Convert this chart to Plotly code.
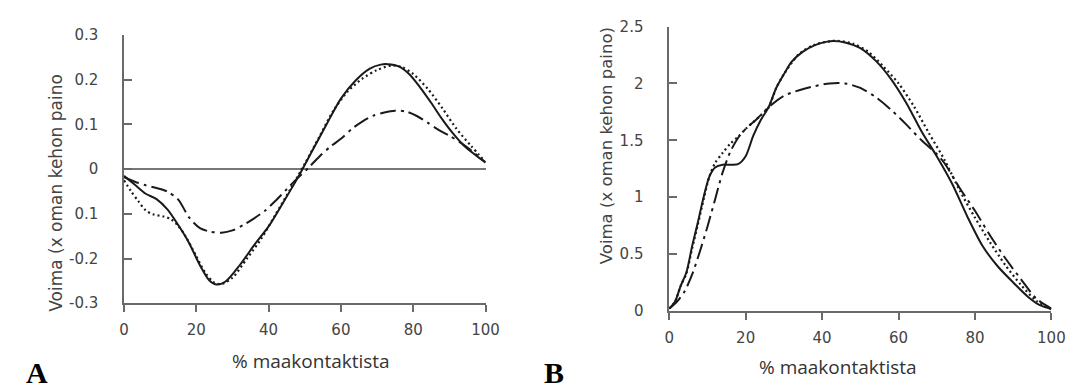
import plotly.graph_objects as go

W, H = 1078, 392

# ---------------- Panel A data ----------------
a_solid_x = [0, 3, 6, 9, 12, 15, 18, 21, 23.5, 25.5, 28, 32, 36, 40, 44, 48, 52, 56, 60, 64, 68, 71, 73, 76, 79, 82, 85, 88, 91, 94, 97, 100]
a_solid_y = [-0.015, -0.035, -0.055, -0.067, -0.09, -0.125, -0.165, -0.215, -0.248, -0.258, -0.252, -0.215, -0.17, -0.128,
             -0.075, -0.02, 0.04, 0.1, 0.158, 0.198, 0.225, 0.234, 0.235, 0.23, 0.212, 0.182, 0.148, 0.112, 0.08, 0.053, 0.033, 0.015]

a_dot_x = [0, 2, 4, 6, 8, 11, 13, 15, 17, 20, 22.5, 25, 27, 30, 34, 38, 42, 46, 50, 54, 58, 62, 66, 70, 74, 77, 80, 84, 88, 92, 96, 100]
a_dot_y = [-0.025, -0.05, -0.072, -0.092, -0.101, -0.106, -0.112, -0.127, -0.15, -0.195, -0.232, -0.254, -0.257, -0.243,
           -0.2, -0.155, -0.1, -0.045, 0.012, 0.072, 0.132, 0.175, 0.203, 0.222, 0.232, 0.228, 0.213, 0.18, 0.137, 0.09, 0.052, 0.016]

a_dd_x = [0, 3, 6, 9, 12, 15, 18, 21, 24, 27, 30, 33, 36, 39, 42, 45, 48, 51, 54, 57, 60, 63, 66, 69, 72, 75, 78, 81, 84, 87, 90, 93, 96, 100]
a_dd_y = [-0.018, -0.028, -0.036, -0.042, -0.05, -0.068, -0.108, -0.132, -0.14, -0.142, -0.137, -0.125, -0.11, -0.093, -0.07,
          -0.045, -0.02, 0.003, 0.028, 0.05, 0.068, 0.09, 0.107, 0.12, 0.127, 0.131, 0.129, 0.119, 0.104, 0.088, 0.075, 0.06, 0.042, 0.015]

# ---------------- Panel B data ----------------
b_solid_x = [0, 1.5, 3, 4.5, 6, 7.5, 9, 10.5, 12, 14, 16, 18, 20, 22, 24, 26, 28, 30, 32, 35, 38, 41, 43, 46, 50, 54, 58, 62, 66, 70, 74, 78, 82, 86, 90, 94, 97, 100]
b_solid_y = [0.02, 0.08, 0.22, 0.34, 0.57, 0.78, 1.0, 1.18, 1.26, 1.285, 1.285, 1.29, 1.36, 1.54, 1.68, 1.79, 1.96, 2.08, 2.19,
             2.28, 2.335, 2.365, 2.373, 2.36, 2.31, 2.2, 2.04, 1.83, 1.58, 1.36, 1.12, 0.83, 0.57, 0.39, 0.25, 0.12, 0.05, 0.015]

b_dot_x = [0, 1.5, 3, 4.5, 6, 7.5, 9, 10.5, 12, 14, 16, 18, 20, 22, 24, 26, 28, 30, 34, 38, 42, 44, 48, 52, 56, 60, 64, 68, 72, 76, 80, 84, 88, 92, 96, 100]
b_dot_y = [0.02, 0.08, 0.22, 0.33, 0.55, 0.76, 0.98, 1.18, 1.3, 1.39, 1.47, 1.53, 1.6, 1.66, 1.72, 1.79, 1.96, 2.08, 2.26, 2.34,
           2.37, 2.375, 2.35, 2.28, 2.15, 2.0, 1.8, 1.56, 1.33, 1.06, 0.82, 0.6, 0.4, 0.23, 0.09, 0.015]

b_dd_x = [0, 2, 4, 6, 8, 10, 12, 14, 16, 18, 20, 23, 26, 30, 34, 38, 42, 46, 50, 54, 58, 62, 66, 70, 72, 76, 80, 84, 88, 92, 96, 100]
b_dd_y = [0.02, 0.08, 0.17, 0.32, 0.52, 0.74, 0.98, 1.22, 1.4, 1.52, 1.6, 1.69, 1.79, 1.89, 1.94, 1.975, 2.0, 2.0, 1.96, 1.88,
          1.77, 1.64, 1.5, 1.38, 1.3, 1.08, 0.88, 0.66, 0.46, 0.28, 0.11, 0.02]

# ---------------- ticks ----------------
x_tickvals = [0, 20, 40, 60, 80, 100]
x_ticktext = ["0", "20", "40", "60", "80", "100"]
a_y_tickvals = [-0.3, -0.2, -0.1, 0, 0.1, 0.2, 0.3]
a_y_ticktext = ["-0.3", "-0.2", "0.1", "0", "0.1", "0.2", "0.3"]
b_y_tickvals = [0, 0.5, 1, 1.5, 2, 2.5]
b_y_ticktext = ["0", "0.5", "1", "1.5", "2", "2.5"]

x_title = "% maakontaktista"
a_y_title = "Voima (x oman kehon paino"
b_y_title = "Voima (x oman kehon paino)"

LINE = "#1a1a1a"
AX = "#6a6a6a"


def px_x(p):
    return p / W


def px_y(p):
    return 1 - p / H


fig = go.Figure()

styles = [
    dict(width=2.0, dash="solid"),
    dict(width=2.2, dash="2px,3px"),
    dict(width=2.0, dash="16px,5px,3px,5px"),
]

for xs, ys, st in [(a_solid_x, a_solid_y, styles[0]), (a_dot_x, a_dot_y, styles[1]), (a_dd_x, a_dd_y, styles[2])]:
    fig.add_trace(go.Scatter(x=xs, y=ys, mode="lines", line=dict(color=LINE, shape="spline", smoothing=0.8, **st),
                             xaxis="x", yaxis="y", showlegend=False, hoverinfo="skip"))
for xs, ys, st in [(b_solid_x, b_solid_y, styles[0]), (b_dot_x, b_dot_y, styles[1]), (b_dd_x, b_dd_y, styles[2])]:
    fig.add_trace(go.Scatter(x=xs, y=ys, mode="lines", line=dict(color=LINE, shape="spline", smoothing=0.8, **st),
                             xaxis="x2", yaxis="y2", showlegend=False, hoverinfo="skip"))

tickfont = dict(family="DejaVu Sans", size=15, color="#444")

xcommon = dict(range=[0, 100], tickvals=x_tickvals, ticktext=x_ticktext, showgrid=False, zeroline=False,
               showline=True, linecolor=AX, linewidth=1.5, ticks="outside", ticklen=7, tickwidth=1.5,
               tickcolor=AX, tickfont=tickfont, ticklabelstandoff=5)
ycommon = dict(showgrid=False, showline=True, linecolor=AX, linewidth=1.5, ticks="inside", ticklen=8,
               tickwidth=1.5, tickcolor=AX, tickfont=tickfont, ticklabelstandoff=21)

fig.update_layout(
    width=W, height=H,
    margin=dict(l=0, r=0, t=0, b=0),
    paper_bgcolor="white", plot_bgcolor="white",
    xaxis=dict(domain=[px_x(113), px_x(481)], anchor="y", **xcommon),
    yaxis=dict(domain=[px_y(300), px_y(19)], anchor="x", range=[-0.3, 0.3], tickvals=a_y_tickvals,
               ticktext=a_y_ticktext, zeroline=True, zerolinecolor="#777", zerolinewidth=1.5, **ycommon),
    xaxis2=dict(domain=[px_x(668), px_x(1057)], anchor="y2", **xcommon),
    yaxis2=dict(domain=[px_y(308), px_y(10)], anchor="x2", range=[0, 2.5], tickvals=b_y_tickvals,
                ticktext=b_y_ticktext, zeroline=False, **ycommon),
)

ann = []
# y titles
ann.append(dict(text=a_y_title, x=px_x(43), y=px_y(184), textangle=-90, xanchor="center", yanchor="middle",
                font=dict(family="DejaVu Sans", size=17, color="#444")))
ann.append(dict(text=b_y_title, x=px_x(604), y=px_y(135), textangle=-90, xanchor="center", yanchor="middle",
                font=dict(family="DejaVu Sans", size=16.5, color="#444")))
# x titles
ann.append(dict(text=x_title, x=px_x(303), y=px_y(361), xanchor="center", yanchor="middle",
                font=dict(family="Open Sans", size=19, color="#333")))
ann.append(dict(text=x_title, x=px_x(840), y=px_y(367), xanchor="center", yanchor="middle",
                font=dict(family="Open Sans", size=19, color="#333")))
# panel letters
ann.append(dict(text="<b>A</b>", x=px_x(24), y=0, xanchor="center", yanchor="bottom",
                font=dict(family="Liberation Serif", size=30, color="#000")))
ann.append(dict(text="<b>B</b>", x=px_x(551), y=0, xanchor="center", yanchor="bottom",
                font=dict(family="Liberation Serif", size=30, color="#000")))

for a in ann:
    a.update(xref="paper", yref="paper", showarrow=False)
fig.update_layout(annotations=ann)

fig.write_html("out.html")
